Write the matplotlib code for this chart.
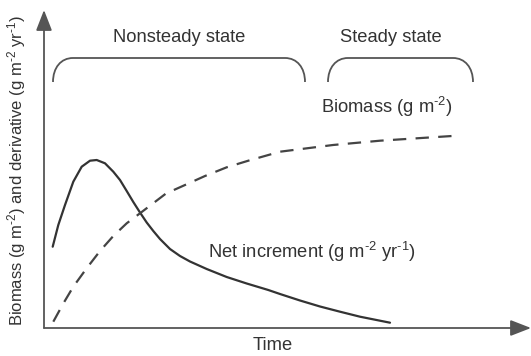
import matplotlib
matplotlib.use("Agg")
import matplotlib.pyplot as plt
from matplotlib.path import Path
from matplotlib.patches import PathPatch

plt.rcParams['font.family'] = ['Liberation Sans', 'DejaVu Sans']
plt.rcParams['mathtext.fontset'] = 'custom'
plt.rcParams['mathtext.rm'] = 'Liberation Sans'
plt.rcParams['mathtext.default'] = 'regular'

# Net increment (solid curve) – time vs value (arbitrary units)
inc_time = [0.87, 1.43, 2.1, 2.93, 3.77, 4.6, 5.27, 6.1, 6.93, 7.6, 8.27, 8.93,
            9.6, 10.27, 10.93, 11.6, 12.6, 13.6, 14.6, 16.27, 18.27, 20.27,
            22.43, 23.6, 25.6, 27.6, 29.6, 31.6, 33.6, 34.6]
inc_value = [8.13, 10.3, 12.3, 14.63, 16.13, 16.73, 16.8, 16.47, 15.63, 14.8,
             13.7, 12.6, 11.55, 10.55, 9.7, 8.9, 7.9, 7.2, 6.65, 5.9, 5.1,
             4.45, 3.8, 3.4, 2.75, 2.15, 1.63, 1.13, 0.73, 0.53]

# Biomass (dashed curve)
bio_time = [0.93, 1.93, 2.93, 4.27, 5.6, 6.93, 8.27, 9.77, 12.2, 14.1, 16.1,
            18.27, 20.43, 23.6, 28.9, 33.6, 41.27]
bio_value = [0.63, 2.45, 4.13, 5.98, 7.7, 9.2, 10.47, 11.6, 13.45, 14.3, 15.2,
             16.07, 16.73, 17.63, 18.3, 18.73, 19.23]

# Phases shown by braces: (label, start time, end time)
phases = [("Nonsteady state", 0.9, 26.1), ("Steady state", 28.4, 42.9)]

XMAX, YMAX = 48.7, 31.8
dark = '#333333'
axis_col = '#555555'
FS = 13.2

fig = plt.figure(figsize=(5.31, 3.56), dpi=100)
ax = fig.add_axes([44/531, 28/356, 487/531, 318/356])
ax.set_xlim(0, XMAX)
ax.set_ylim(0, YMAX)
for s in ['top', 'right', 'left', 'bottom']:
    ax.spines[s].set_visible(False)
ax.set_xticks([])
ax.set_yticks([])
ax.patch.set_alpha(0)

# axes with arrows
arrow_kw = dict(arrowstyle='-|>,head_length=0.9,head_width=0.35', color=axis_col,
                lw=1.3, shrinkA=0, shrinkB=0, mutation_scale=14)
ax.annotate('', xy=(0, YMAX), xytext=(0, 0), xycoords='data',
            arrowprops=arrow_kw, annotation_clip=False)
ax.annotate('', xy=(XMAX, 0), xytext=(0, 0), xycoords='data',
            arrowprops=arrow_kw, annotation_clip=False)

ax.plot(inc_time, inc_value, color=dark, lw=1.6, solid_capstyle='round',
        solid_joinstyle='round', clip_on=False)
ax.plot(bio_time, bio_value, color='#444444', lw=1.6, dashes=(6, 4.2), clip_on=False)

# braces
yb, yt = 24.6, 27.0
r = 2.0
for label, x0, x1 in phases:
    verts = [(x0, yb), (x0, yb + 0.6 * (yt - yb)), (x0 + 0.4 * r, yt), (x0 + r, yt),
             (x1 - r, yt),
             (x1 - 0.4 * r, yt), (x1, yb + 0.6 * (yt - yb)), (x1, yb)]
    codes = [Path.MOVETO, Path.CURVE4, Path.CURVE4, Path.CURVE4,
             Path.LINETO,
             Path.CURVE4, Path.CURVE4, Path.CURVE4]
    ax.add_patch(PathPatch(Path(verts, codes), fill=False, ec='#555555', lw=1.3))
    ax.text((x0 + x1) / 2 + (0 if label.startswith('Non') else -1.0), 29.1, label,
            ha='center', va='center', fontsize=FS, color=dark)

ax.text(34.3, 22.1, 'Biomass (g m$^{\u20102}$)', ha='center', va='center',
        fontsize=FS, color=dark)
ax.text(26.8, 7.6, 'Net increment (g m$^{\u20102}$ yr$^{\u20101}$)', ha='center', va='center',
        fontsize=FS, color=dark)

fig.text(273/531, 1 - 346/356, 'Time', ha='center', va='center', fontsize=FS, color=dark)
fig.text(17/531, 1 - 170/356, 'Biomass (g m$^{\u20102}$) and derivative (g m$^{\u20102}$ yr$^{\u20101}$)',
         ha='center', va='center', rotation=90, fontsize=12, color=dark)

fig.savefig('out.png', dpi=100, facecolor='white')
